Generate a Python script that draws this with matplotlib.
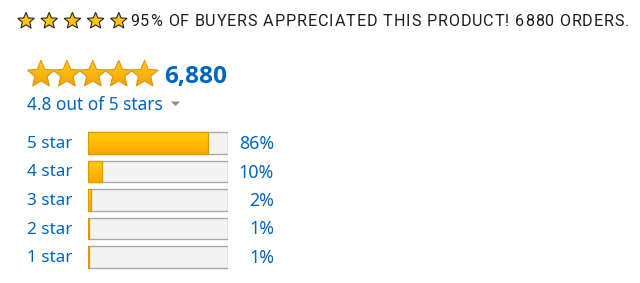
import numpy as np
import matplotlib
matplotlib.use("Agg")
import matplotlib.pyplot as plt
from matplotlib.patches import Polygon

# data
rating_labels = ["5 star", "4 star", "3 star", "2 star", "1 star"]
rating_pct = [86, 10, 2, 1, 1]
average_rating = 4.8
max_rating = 5
total_ratings = 6880
buyers_pct = 95

BLUE = "#0066C0"
W, H = 640, 283


def star_xy(cx, cy, r_out, ratio=0.44):
    ang = np.deg2rad(90 + np.arange(10) * 36)
    rad = np.where(np.arange(10) % 2 == 0, r_out, r_out * ratio)
    # y axis points down in the overlay
    return np.column_stack([cx + rad * np.cos(ang), cy - rad * np.sin(ang)])


def gradient_fill(ax, patch, x0, x1, y0, y1, top, bottom):
    grad = np.linspace(0, 1, 64).reshape(-1, 1)
    cmap = matplotlib.colors.LinearSegmentedColormap.from_list("g", [top, bottom])
    im = ax.imshow(grad, cmap=cmap, extent=(x0, x1, y1, y0), aspect="auto",
                   origin="upper", zorder=patch.get_zorder() - 0.1)
    im.set_clip_path(patch)


fig = plt.figure(figsize=(W / 100, H / 100), dpi=100)

# overlay in pixel units
ov = fig.add_axes([0, 0, 1, 1])
ov.set_xlim(0, W)
ov.set_ylim(H, 0)
ov.axis("off")

# headline: small stars + spaced text
for i in range(max_rating):
    p = Polygon(star_xy(26 + i * 23.2, 21, 8.7, 0.44), closed=True,
                facecolor="#FFC414", edgecolor="#2e2616", lw=0.8, zorder=3)
    ov.add_patch(p)

headline = f"{buyers_pct}% OF BUYERS APPRECIATED THIS PRODUCT! {total_ratings} ORDERS."
fig.canvas.draw()
r = fig.canvas.get_renderer()
hl_kw = dict(family="Roboto", fontsize=11.6, color="#1d1d1d", va="baseline", ha="left")
full = ov.text(0, 0, headline, **hl_kw)
natural = full.get_window_extent(r).width
full.remove()
spacing = (629 - 130 - natural) / (len(headline) - 1)
for k, ch in enumerate(headline):
    if k == 0:
        off = 0
    else:
        t = ov.text(0, 0, headline[:k], **hl_kw)
        off = t.get_window_extent(r).width
        t.remove()
    ov.text(130 + off + k * spacing, 26, ch, **hl_kw)

# big stars
for i in range(max_rating):
    p = Polygon(star_xy(41 + i * 25.9, 74.5, 14.2, 0.45), closed=True,
                facecolor="none", edgecolor="#E09608", lw=0.8, zorder=4)
    ov.add_patch(p)
    gradient_fill(ov, p, 26, 56 + i * 25.9, 60, 88, "#FFCC1F", "#F29E00")

ov.text(164, 83, f"{total_ratings:,}", family="Open Sans", fontweight="bold",
        fontsize=17.6, color=BLUE, va="baseline", ha="left")
ov.text(27, 110, f"{average_rating} out of {max_rating} stars", family="Noto Sans",
        fontsize=12.4, color=BLUE, va="baseline", ha="left")
ov.add_patch(Polygon([[171, 101.5], [180, 101.5], [175.5, 106]], closed=True,
                     facecolor="#8a8a8a", edgecolor="none"))

# histogram bars
row_h = 28.5
top_px = 143 - row_h / 2
ax = fig.add_axes([88 / W, 1 - (top_px + row_h * 5) / H, 140 / W, row_h * 5 / H])
ypos = np.arange(len(rating_labels))
ax.set_xlim(0, 100)
ax.set_ylim(len(rating_labels) - 0.5, -0.5)
ax.axis("off")

tracks = ax.barh(ypos, [100] * len(ypos), height=0.77, color="#F3F3F3",
                 edgecolor="#A9A9A9", lw=1.0, zorder=1)
fills = ax.barh(ypos, rating_pct, height=0.77, color="none",
                edgecolor="#D99B00", lw=0.9, zorder=3)
for b in fills:
    x0, y0 = b.get_x(), b.get_y()
    gradient_fill(ax, b, x0, x0 + b.get_width(), y0, y0 + b.get_height(),
                  "#FFCE00", "#FFA600")

for i, (lab, pct) in enumerate(zip(rating_labels, rating_pct)):
    ax.annotate(lab, xy=(0, i), xycoords=("axes fraction", "data"),
                xytext=(-61, -1), textcoords="offset pixels", family="Noto Sans",
                fontsize=12.3, color=BLUE, ha="left", va="center")
    ax.annotate(f"{pct}%", xy=(1, i), xycoords=("axes fraction", "data"),
                xytext=(46, -1), textcoords="offset pixels", family="Noto Sans",
                fontsize=12.8, color=BLUE, ha="right", va="center")

fig.savefig("out.png", dpi=100, facecolor="white")
